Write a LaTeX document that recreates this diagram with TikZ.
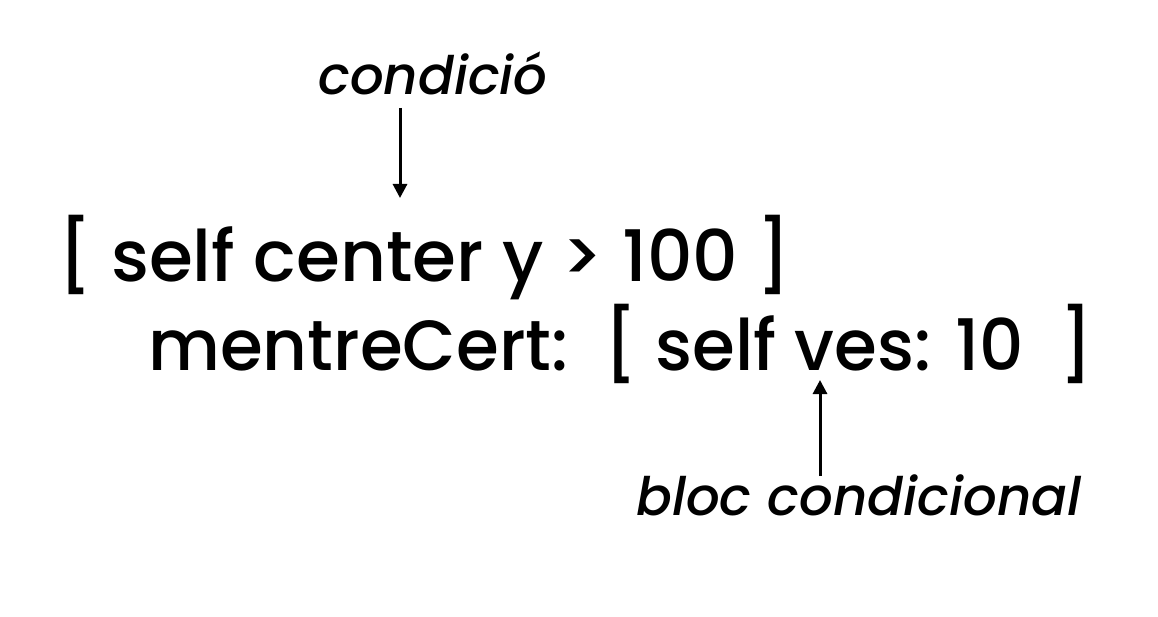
\documentclass[tikz,border=0pt]{standalone}
\usetikzlibrary{arrows.meta}
\usepackage{fontspec}
\setmainfont{Poppins}[UprightFont={* Medium},ItalicFont={* Medium Italic}]
\begin{document}
\begin{tikzpicture}[x=1pt,y=-1pt,
  code/.style={anchor=base west,inner sep=0pt,font=\fontsize{71}{80}\selectfont},
  lbl/.style={anchor=base west,inner sep=0pt,font=\fontsize{53}{60}\selectfont\itshape},
  arr/.style={-{Triangle[length=14pt,width=14pt]},line width=3pt}]
\useasboundingbox (0,0) rectangle (1158,617);
\node[code] (l1) at (58,282) {[ self center y > 100 ]};
\node[code] (l2) at (148,370) {\scalebox{0.975}[1]{mentreCert:\ \ [ self ves: 10\ \ ]}};
\node[lbl] (c) at (318,95) {condició};
\node[lbl] (b) at (636,515) {bloc condicional};
\coordinate (c1) at (400,108);
\coordinate (c2) at (400,198);
\coordinate (b1) at (820,476);
\coordinate (b2) at (820,380);
\draw[arr] (c1) -- (c2);
\draw[arr] (b1) -- (b2);
\end{tikzpicture}
\end{document}
